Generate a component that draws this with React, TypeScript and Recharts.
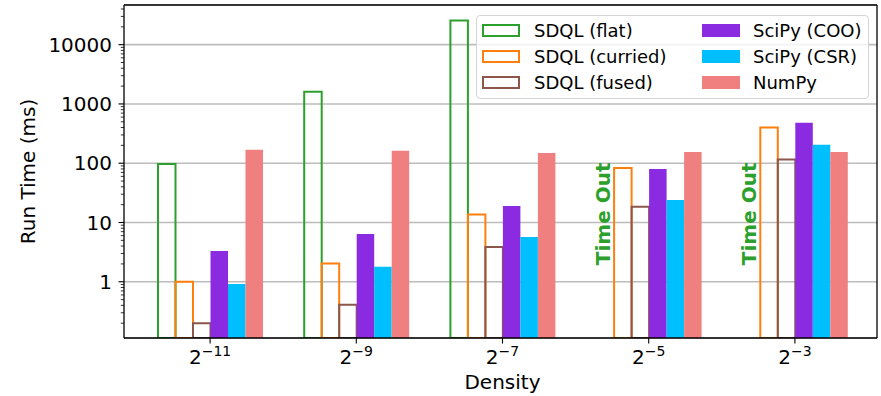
import React from 'react'
import {
  BarChart,
  Bar,
  XAxis,
  YAxis,
  CartesianGrid,
  Legend,
  ReferenceDot
} from 'recharts'

// density = 2^exp
const densityExponents = [-11, -9, -7, -5, -3]

// run time (ms), null = time out
const sdqlFlat = [97, 1610, 25500, null, null]
const sdqlCurried = [1.0, 2.04, 13.7, 83, 400]
const sdqlFused = [0.2, 0.41, 3.85, 18.4, 115]
const scipyCoo = [3.3, 6.4, 18.9, 80, 480]
const scipyCsr = [0.92, 1.8, 5.7, 24, 204]
const numpy = [168, 162, 149, 155, 155]

const timeoutExponents = [-5, -3]
const timeoutLabelY = 14

const majorTicks = [1, 10, 100, 1000, 10000]
const minorDecades = [0.1, 1, 10, 100, 1000, 10000]
const minorSteps = [2, 3, 4, 5, 6, 7, 8, 9]

const yDomain: [number, number] = [0.1125, 46700]
const minorTicks = minorDecades
  .flatMap((d) => minorSteps.map((s) => +(d * s).toPrecision(3)))
  .filter((v) => v > yDomain[0] && v < yDomain[1])
const allTicks = [...majorTicks, ...minorTicks].sort((a, b) => a - b)

const series = [
  { key: 'flat', name: 'SDQL (flat)', values: sdqlFlat, color: '#2ca02c', hollow: true },
  { key: 'curried', name: 'SDQL (curried)', values: sdqlCurried, color: '#ff7f0e', hollow: true },
  { key: 'fused', name: 'SDQL (fused)', values: sdqlFused, color: '#8c564b', hollow: true },
  { key: 'coo', name: 'SciPy (COO)', values: scipyCoo, color: '#8a2be2', hollow: false },
  { key: 'csr', name: 'SciPy (CSR)', values: scipyCsr, color: '#00bfff', hollow: false },
  { key: 'numpy', name: 'NumPy', values: numpy, color: '#f08080', hollow: false }
]

const data = densityExponents.map((exp, i) => {
  const row: any = { exp }
  series.forEach((s) => {
    row[s.key] = s.values[i]
  })
  return row
})

const BAR_SIZE = 17.5
const FONT = '"DejaVu Sans", sans-serif'
const SPINE = { stroke: '#000', strokeWidth: 1.3 }

const YTick = ({ x, y, payload }: any) => {
  const major = majorTicks.includes(payload.value)
  return (
    <g>
      <line x1={x - (major ? 5.5 : 3.2)} x2={x} y1={y} y2={y} stroke="#000" strokeWidth={major ? 1.1 : 0.8} />
      {major && (
        <text x={x - 12} y={y} dy="0.36em" textAnchor="end" fontSize={20} fill="#000">
          {payload.value}
        </text>
      )}
    </g>
  )
}

const XTick = ({ x, y, payload }: any) => (
  <g>
    <line x1={x} x2={x} y1={y} y2={y + 5.5} stroke="#000" strokeWidth={1.1} />
    <text x={x} y={y + 26} textAnchor="middle" fill="#000">
      <tspan fontSize={20}>2</tspan>
      <tspan fontSize={14} dy={-8}>
        {'\u2212' + Math.abs(payload.value)}
      </tspan>
    </text>
  </g>
)

const TimeOut = ({ cx, cy }: any) => {
  const tx = cx - 2.5 * BAR_SIZE - 2
  return (
    <text
      x={tx}
      y={cy}
      transform={`rotate(-90, ${tx}, ${cy})`}
      textAnchor="middle"
      dominantBaseline="central"
      fontSize={20}
      fontWeight="bold"
      fill="#2ca02c"
    >
      Time Out
    </text>
  )
}

const LegendBox = () => {
  const rows = [14.5, 40.5, 66.5]
  return (
    <div
      style={{
        position: 'relative',
        width: 393,
        height: 84,
        boxSizing: 'border-box',
        border: '1px solid #d4d4d4',
        borderRadius: 4,
        background: 'rgba(255,255,255,0.8)',
        fontFamily: FONT,
        fontSize: 18,
        color: '#000'
      }}
    >
      {series.map((s, i) => {
        const col = Math.floor(i / 3)
        const top = rows[i % 3]
        const patchLeft = col === 0 ? 5 : 225
        const textLeft = col === 0 ? 57 : 276
        return (
          <React.Fragment key={s.key}>
            <div
              style={{
                position: 'absolute',
                left: patchLeft,
                top: top - 6.5,
                width: 38,
                height: 13,
                boxSizing: 'border-box',
                border: s.hollow ? `2px solid ${s.color}` : 'none',
                background: s.hollow ? 'transparent' : s.color
              }}
            />
            <div style={{ position: 'absolute', left: textLeft, top: top - 11, lineHeight: '22px', whiteSpace: 'nowrap' }}>
              {s.name}
            </div>
          </React.Fragment>
        )
      })}
    </div>
  )
}

export default function App() {
  return (
    <div style={{ position: 'absolute', left: 0, top: 0, width: 881, height: 396, background: '#fff', fontFamily: FONT }}>
      <BarChart
        width={881}
        height={396}
        data={data}
        margin={{ top: 4, right: 3, bottom: 0, left: 0 }}
        barSize={BAR_SIZE}
        barGap={0}
      >
        <CartesianGrid yAxisId="grid" vertical={false} stroke="#bcbcbc" strokeWidth={1.6} />
        <XAxis
          dataKey="exp"
          type="category"
          height={58}
          padding={{ left: 13, right: 9 }}
          tick={<XTick />}
          tickSize={0}
          tickMargin={0}
          tickLine={false}
          interval={0}
          axisLine={SPINE}
          label={({ viewBox }: any) => (
            <text x={viewBox.x + viewBox.width / 2 + 2} y={viewBox.y + 51} textAnchor="middle" fontSize={20} fill="#000">
              Density
            </text>
          )}
        />
        <XAxis xAxisId="top" dataKey="exp" orientation="top" height={1} tick={false} tickLine={false} axisLine={SPINE} />
        <YAxis
          scale="log"
          domain={yDomain}
          allowDataOverflow
          ticks={allTicks}
          interval={0}
          width={124}
          tick={<YTick />}
          tickSize={0}
          tickMargin={0}
          tickLine={false}
          axisLine={SPINE}
          label={({ viewBox }: any) => {
            const cx = viewBox.x + 28
            const cy = viewBox.y + viewBox.height / 2
            return (
              <text x={cx} y={cy} transform={`rotate(-90, ${cx}, ${cy})`} textAnchor="middle" dominantBaseline="central" fontSize={20} fill="#000">
                Run Time (ms)
              </text>
            )
          }}
        />
        <YAxis yAxisId="grid" scale="log" domain={yDomain} allowDataOverflow ticks={majorTicks} hide />
        <YAxis yAxisId="right" orientation="right" scale="log" domain={yDomain} allowDataOverflow width={1} tick={false} tickLine={false} axisLine={SPINE} />
        {series.map((s) => (
          <Bar
            key={s.key}
            dataKey={s.key}
            name={s.name}
            fill={s.hollow ? 'none' : s.color}
            stroke={s.hollow ? s.color : 'none'}
            strokeWidth={s.hollow ? 2 : 0}
            isAnimationActive={false}
          />
        ))}
        {timeoutExponents.map((e) => (
          <ReferenceDot key={e} x={e} y={timeoutLabelY} shape={<TimeOut />} />
        ))}
        <Legend
          layout="vertical"
          align="center"
          verticalAlign="middle"
          content={() => <LegendBox />}
          wrapperStyle={{ left: 476, top: 15, width: 393, height: 84 }}
        />
      </BarChart>
    </div>
  )
}
